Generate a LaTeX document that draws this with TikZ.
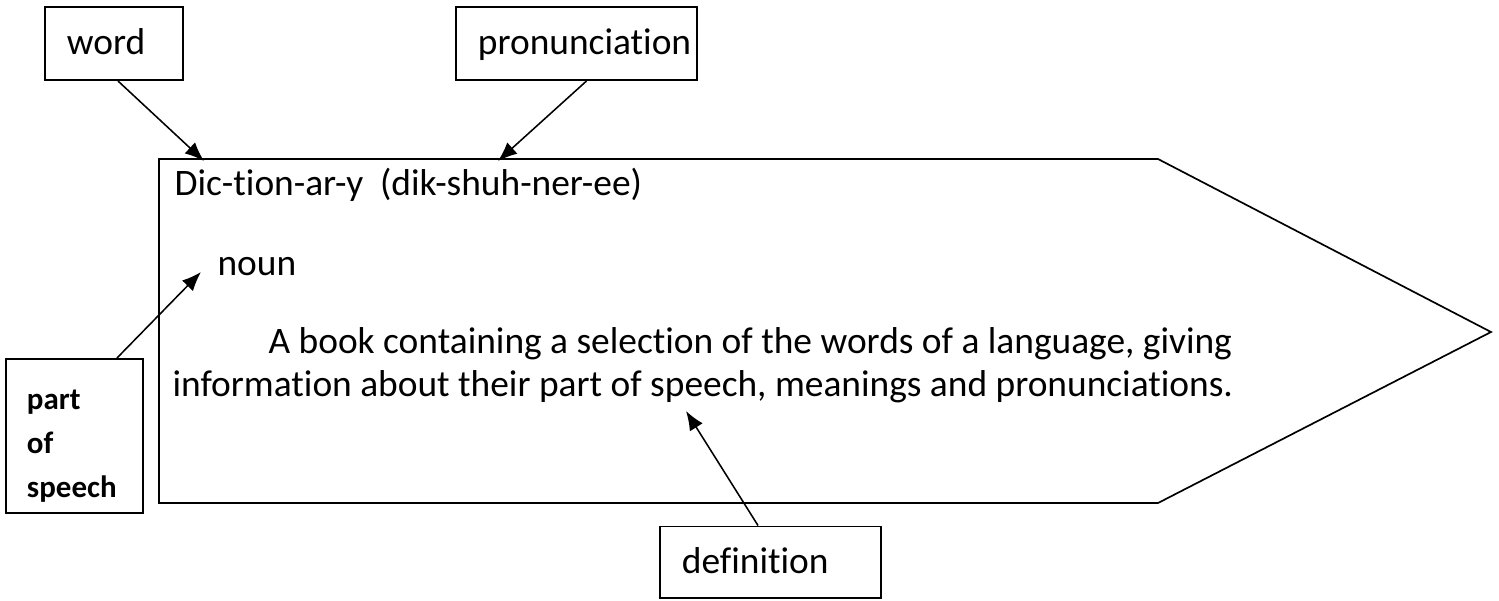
\documentclass[tikz,border=0pt]{standalone}
\usepackage{fontspec}
\setmainfont[Ligatures=NoCommon]{Carlito}
\usetikzlibrary{calc,arrows.meta}
\tikzset{
  labelbox/.style={draw,line width=0.7pt,align=left,inner xsep=0.275cm,inner ysep=0pt,text height=10pt,text depth=2pt,font=\fontsize{13.3}{15.8}\selectfont},
  entrytext/.style={anchor=base west,inner sep=0pt,font=\fontsize{13.3}{15.8}\selectfont},
  pointer/.style={-{Latex[length=0.24cm,width=0.19cm]},line width=0.55pt},
}
\begin{document}
\begin{tikzpicture}[x=0.0125cm,y=-0.0125cm]
\useasboundingbox (0,0) rectangle (1499,600);
% dictionary entry
\draw[line width=0.6pt](159,159)--(1158,159)--(1491,332)--(1158,503)--(159,503)--cycle;
\node[entrytext](headword) at (174,195) {Dic-tion-ar-y\ \ (dik-shuh-ner-ee)};
\node[entrytext](noun) at (217,275) {noun};
\node[entrytext](defa) at (268,353) {A book containing a selection of the words of a language, giving};
\node[entrytext](defb) at (172,396) {information about their part of speech, meanings and pronunciations.};
% labels
\node[labelbox,text width=1.175cm,minimum height=0.9125cm](word) at (114,43.5) {word};
\node[labelbox,text width=2.4625cm,minimum height=0.9125cm](pron) at (576.5,43.5) {pronunciation};
\node[labelbox,text width=2.2125cm,minimum height=0.8875cm](defn) at (770.5,562) {definition};
\node[labelbox,text width=1.1875cm,inner xsep=0.2625cm,minimum height=1.925cm,text height=,text depth=,
  font=\fontsize{11}{15.6}\selectfont\bfseries](pos) at (74.5,436) {\rule{0pt}{0.49cm}part\\of\\speech};
% pointers
\coordinate(wordtip) at (204,161);
\coordinate(prontip) at (498,161);
\coordinate(nountip) at (201,272);
\coordinate(defntip) at (686,411);
\draw[pointer]($(word.south)+(4,0)$)--(wordtip);
\draw[pointer]($(pron.south)+(10,0)$)--(prontip);
\draw[pointer]($(pos.north)+(42.5,0)$)--(nountip);
\draw[pointer]($(defn.north)+(-12.5,0)$)--(defntip);
\end{tikzpicture}
\end{document}
